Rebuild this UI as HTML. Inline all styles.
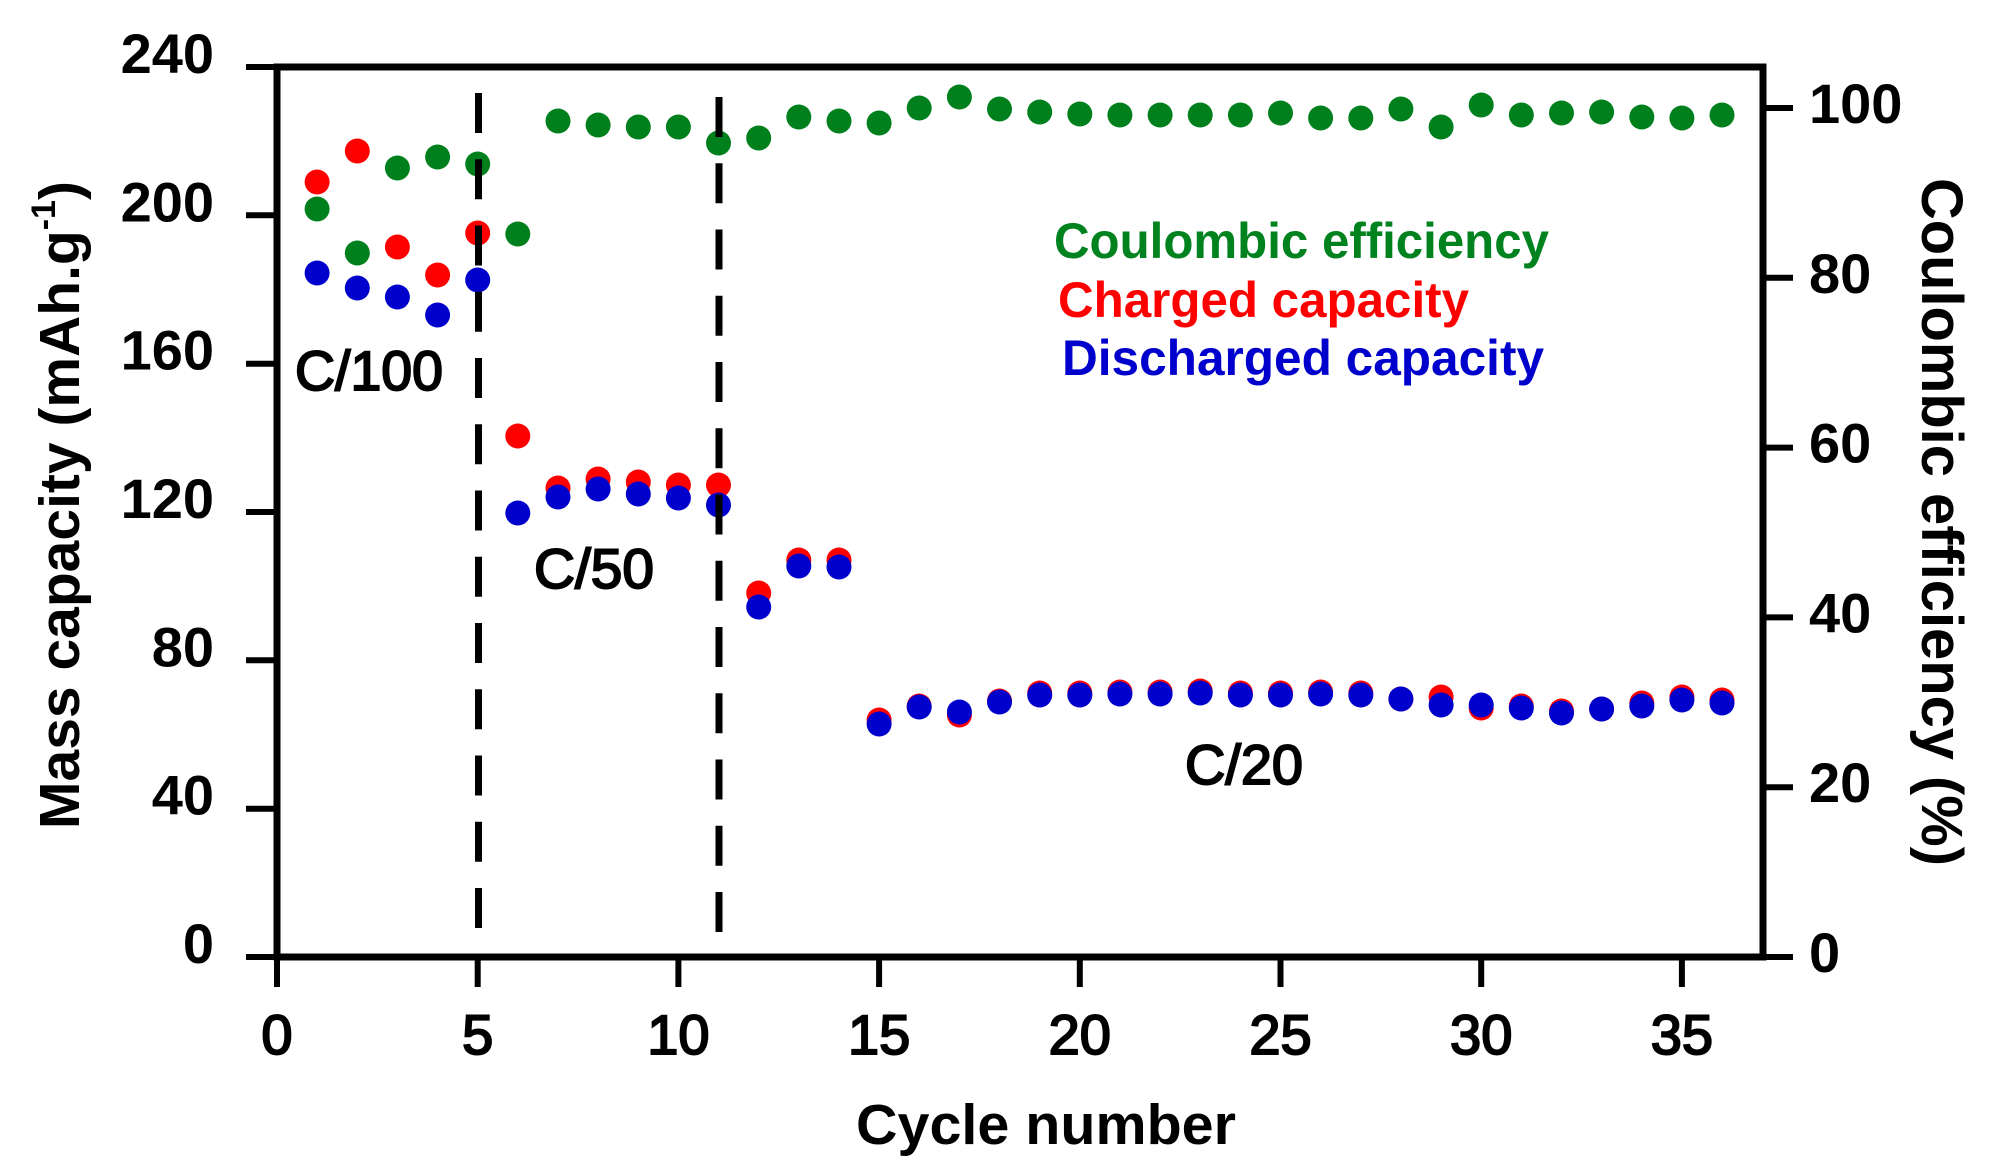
<!DOCTYPE html>
<html>
<head>
<meta charset="utf-8">
<style>
html,body{margin:0;padding:0;background:#fff;}
svg{display:block;}
text{font-family:"Liberation Sans",Arial,sans-serif;}
</style>
</head>
<body>
<svg width="1992" height="1171" viewBox="0 0 1992 1171" xmlns="http://www.w3.org/2000/svg">
<rect width="1992" height="1171" fill="#fff"/>

<!-- Points: red (charged) -->
<g fill="#ff0000">
<circle cx="317.1" cy="182" r="12.5"/>
<circle cx="357.3" cy="151" r="12.5"/>
<circle cx="397.4" cy="247" r="12.5"/>
<circle cx="437.6" cy="275" r="12.5"/>
<circle cx="477.7" cy="233" r="12.5"/>
<circle cx="517.8" cy="436" r="12.5"/>
<circle cx="558.0" cy="488" r="12.5"/>
<circle cx="598.1" cy="479" r="12.5"/>
<circle cx="638.3" cy="482" r="12.5"/>
<circle cx="678.4" cy="485" r="12.5"/>
<circle cx="718.5" cy="485" r="12.5"/>
<circle cx="758.7" cy="593" r="12.5"/>
<circle cx="798.8" cy="560" r="12.5"/>
<circle cx="839.0" cy="560" r="12.5"/>
<circle cx="879.1" cy="720" r="12.5"/>
<circle cx="919.2" cy="706" r="12.5"/>
<circle cx="959.4" cy="715" r="12.5"/>
<circle cx="999.5" cy="701" r="12.5"/>
<circle cx="1039.7" cy="693" r="12.5"/>
<circle cx="1079.8" cy="693" r="12.5"/>
<circle cx="1119.9" cy="692" r="12.5"/>
<circle cx="1160.1" cy="692" r="12.5"/>
<circle cx="1200.2" cy="691" r="12.5"/>
<circle cx="1240.4" cy="693" r="12.5"/>
<circle cx="1280.5" cy="693" r="12.5"/>
<circle cx="1320.6" cy="692" r="12.5"/>
<circle cx="1360.8" cy="693" r="12.5"/>
<circle cx="1400.9" cy="699" r="12.5"/>
<circle cx="1441.1" cy="697" r="12.5"/>
<circle cx="1481.2" cy="708" r="12.5"/>
<circle cx="1521.3" cy="706" r="12.5"/>
<circle cx="1561.5" cy="711" r="12.5"/>
<circle cx="1601.6" cy="709" r="12.5"/>
<circle cx="1641.8" cy="703" r="12.5"/>
<circle cx="1681.9" cy="697" r="12.5"/>
<circle cx="1722.0" cy="700" r="12.5"/>
</g>

<!-- Points: blue (discharged) -->
<g fill="#0000cd">
<circle cx="317.1" cy="273" r="12.5"/>
<circle cx="357.3" cy="288" r="12.5"/>
<circle cx="397.4" cy="297" r="12.5"/>
<circle cx="437.6" cy="315" r="12.5"/>
<circle cx="477.7" cy="280" r="12.5"/>
<circle cx="517.8" cy="513" r="12.5"/>
<circle cx="558.0" cy="497" r="12.5"/>
<circle cx="598.1" cy="489" r="12.5"/>
<circle cx="638.3" cy="494" r="12.5"/>
<circle cx="678.4" cy="498" r="12.5"/>
<circle cx="718.5" cy="505" r="12.5"/>
<circle cx="758.7" cy="607" r="12.5"/>
<circle cx="798.8" cy="566" r="12.5"/>
<circle cx="839.0" cy="567" r="12.5"/>
<circle cx="879.1" cy="724" r="12.5"/>
<circle cx="919.2" cy="707" r="12.5"/>
<circle cx="959.4" cy="712" r="12.5"/>
<circle cx="999.5" cy="702" r="12.5"/>
<circle cx="1039.7" cy="695" r="12.5"/>
<circle cx="1079.8" cy="695" r="12.5"/>
<circle cx="1119.9" cy="694" r="12.5"/>
<circle cx="1160.1" cy="694" r="12.5"/>
<circle cx="1200.2" cy="693" r="12.5"/>
<circle cx="1240.4" cy="695" r="12.5"/>
<circle cx="1280.5" cy="695" r="12.5"/>
<circle cx="1320.6" cy="694" r="12.5"/>
<circle cx="1360.8" cy="695" r="12.5"/>
<circle cx="1400.9" cy="699" r="12.5"/>
<circle cx="1441.1" cy="705" r="12.5"/>
<circle cx="1481.2" cy="705" r="12.5"/>
<circle cx="1521.3" cy="708" r="12.5"/>
<circle cx="1561.5" cy="713" r="12.5"/>
<circle cx="1601.6" cy="709" r="12.5"/>
<circle cx="1641.8" cy="706" r="12.5"/>
<circle cx="1681.9" cy="700" r="12.5"/>
<circle cx="1722.0" cy="703" r="12.5"/>
</g>

<!-- Points: green (coulombic efficiency) -->
<g fill="#00801c">
<circle cx="317.1" cy="209" r="12.5"/>
<circle cx="357.3" cy="253" r="12.5"/>
<circle cx="397.4" cy="168" r="12.5"/>
<circle cx="437.6" cy="157" r="12.5"/>
<circle cx="477.7" cy="164" r="12.5"/>
<circle cx="517.8" cy="234" r="12.5"/>
<circle cx="558.0" cy="121" r="12.5"/>
<circle cx="598.1" cy="125" r="12.5"/>
<circle cx="638.3" cy="127" r="12.5"/>
<circle cx="678.4" cy="127" r="12.5"/>
<circle cx="718.5" cy="143" r="12.5"/>
<circle cx="758.7" cy="138" r="12.5"/>
<circle cx="798.8" cy="117" r="12.5"/>
<circle cx="839.0" cy="121" r="12.5"/>
<circle cx="879.1" cy="123" r="12.5"/>
<circle cx="919.2" cy="108" r="12.5"/>
<circle cx="959.4" cy="97" r="12.5"/>
<circle cx="999.5" cy="109" r="12.5"/>
<circle cx="1039.7" cy="112" r="12.5"/>
<circle cx="1079.8" cy="114" r="12.5"/>
<circle cx="1119.9" cy="115" r="12.5"/>
<circle cx="1160.1" cy="115" r="12.5"/>
<circle cx="1200.2" cy="115" r="12.5"/>
<circle cx="1240.4" cy="115" r="12.5"/>
<circle cx="1280.5" cy="113" r="12.5"/>
<circle cx="1320.6" cy="118" r="12.5"/>
<circle cx="1360.8" cy="118" r="12.5"/>
<circle cx="1400.9" cy="109" r="12.5"/>
<circle cx="1441.1" cy="127" r="12.5"/>
<circle cx="1481.2" cy="105" r="12.5"/>
<circle cx="1521.3" cy="115" r="12.5"/>
<circle cx="1561.5" cy="113" r="12.5"/>
<circle cx="1601.6" cy="112" r="12.5"/>
<circle cx="1641.8" cy="117" r="12.5"/>
<circle cx="1681.9" cy="118" r="12.5"/>
<circle cx="1722.0" cy="115" r="12.5"/>
</g>

<!-- Dashed separators -->
<g stroke="#000" stroke-width="7" stroke-dasharray="40 26.25" fill="none">
<line x1="478.5" y1="93" x2="478.5" y2="933"/>
<line x1="719" y1="97" x2="719" y2="937"/>
</g>

<!-- Axes frame -->
<rect x="277" y="67" width="1486" height="890" fill="none" stroke="#000" stroke-width="7"/>

<!-- Ticks -->
<g stroke="#000" stroke-width="6">
<line x1="246" y1="957" x2="277" y2="957"/>
<line x1="246" y1="808.7" x2="277" y2="808.7"/>
<line x1="246" y1="660.3" x2="277" y2="660.3"/>
<line x1="246" y1="512" x2="277" y2="512"/>
<line x1="246" y1="363.7" x2="277" y2="363.7"/>
<line x1="246" y1="215.3" x2="277" y2="215.3"/>
<line x1="246" y1="67" x2="277" y2="67"/>

<line x1="277" y1="957" x2="277" y2="987"/>
<line x1="477.7" y1="957" x2="477.7" y2="987"/>
<line x1="678.4" y1="957" x2="678.4" y2="987"/>
<line x1="879.1" y1="957" x2="879.1" y2="987"/>
<line x1="1079.8" y1="957" x2="1079.8" y2="987"/>
<line x1="1280.5" y1="957" x2="1280.5" y2="987"/>
<line x1="1481.2" y1="957" x2="1481.2" y2="987"/>
<line x1="1681.9" y1="957" x2="1681.9" y2="987"/>

<line x1="1763" y1="957" x2="1793" y2="957"/>
<line x1="1763" y1="787.2" x2="1793" y2="787.2"/>
<line x1="1763" y1="617.4" x2="1793" y2="617.4"/>
<line x1="1763" y1="447.6" x2="1793" y2="447.6"/>
<line x1="1763" y1="277.8" x2="1793" y2="277.8"/>
<line x1="1763" y1="108" x2="1793" y2="108"/>
</g>

<!-- Left tick labels -->
<g font-size="56" font-weight="bold" text-anchor="end" fill="#000">
<text x="214" y="963">0</text>
<text x="214" y="814.7">40</text>
<text x="214" y="666.3">80</text>
<text x="214" y="518">120</text>
<text x="214" y="369.7">160</text>
<text x="214" y="221.3">200</text>
<text x="214" y="73">240</text>
</g>

<!-- Bottom tick labels -->
<g font-size="56" text-anchor="middle" fill="#000" stroke="#000" stroke-width="2">
<text x="277" y="1054">0</text>
<text x="477.7" y="1054">5</text>
<text x="678.4" y="1054">10</text>
<text x="879.1" y="1054">15</text>
<text x="1079.8" y="1054">20</text>
<text x="1280.5" y="1054">25</text>
<text x="1481.2" y="1054">30</text>
<text x="1681.9" y="1054">35</text>
</g>

<!-- Right tick labels -->
<g font-size="56" font-weight="bold" text-anchor="start" fill="#000">
<text x="1809" y="972">0</text>
<text x="1809" y="802.2">20</text>
<text x="1809" y="632.4">40</text>
<text x="1809" y="462.6">60</text>
<text x="1809" y="292.8">80</text>
<text x="1809" y="123">100</text>
</g>

<!-- Axis titles -->
<text transform="translate(79,505) rotate(-90)" font-size="57" font-weight="bold" text-anchor="middle" fill="#000">Mass capacity (mAh.g<tspan font-size="34" dy="-24">-1</tspan><tspan dy="24">)</tspan></text>

<text transform="translate(1922,522) rotate(90)" font-size="58" font-weight="bold" text-anchor="middle" fill="#000" textLength="688" lengthAdjust="spacingAndGlyphs">Coulombic efficiency (%)</text>

<text x="1046" y="1144" font-size="57" font-weight="bold" text-anchor="middle" fill="#000" textLength="380" lengthAdjust="spacingAndGlyphs">Cycle number</text>

<!-- Legend -->
<text x="1054" y="258" font-size="50" font-weight="bold" fill="#00821e" textLength="495" lengthAdjust="spacingAndGlyphs">Coulombic efficiency</text>
<text x="1058" y="317" font-size="50" font-weight="bold" fill="#ff0000" textLength="411" lengthAdjust="spacingAndGlyphs">Charged capacity</text>
<text x="1062" y="375" font-size="50" font-weight="bold" fill="#0000cd" textLength="482" lengthAdjust="spacingAndGlyphs">Discharged capacity</text>

<!-- Rate annotations -->
<g fill="#000" stroke="#000" stroke-width="2" font-size="56">
<text x="295" y="390" textLength="148" lengthAdjust="spacingAndGlyphs">C/100</text>
<text x="534" y="588" textLength="120" lengthAdjust="spacingAndGlyphs">C/50</text>
<text x="1185" y="784" textLength="118" lengthAdjust="spacingAndGlyphs">C/20</text>
</g>
</svg>
</body>
</html>
